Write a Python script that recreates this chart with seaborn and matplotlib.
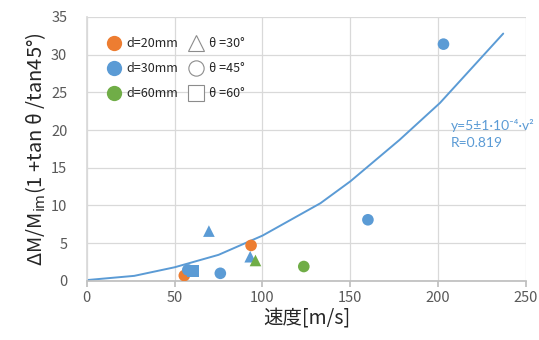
import pandas as pd
import seaborn as sns
import matplotlib.pyplot as plt
from matplotlib.lines import Line2D

# measured points
speed = [55.5, 93.5, 203, 160, 76, 57.5, 60.5, 69.5, 93, 96, 123.5]
dm = [0.7, 4.7, 31.4, 8.1, 1.0, 1.45, 1.3, 6.6, 3.2, 2.7, 1.9]
diam = ["d=20mm", "d=20mm", "d=30mm", "d=30mm", "d=30mm", "d=30mm", "d=30mm",
        "d=30mm", "d=30mm", "d=60mm", "d=60mm"]
theta = ["45", "45", "45", "45", "45", "45", "60", "30", "30", "30", "45"]

# fitted curve
fit_v = [0, 27, 50, 75, 100, 133, 150, 178, 201, 237]
fit_y = [0.1, 0.66, 1.8, 3.45, 6.0, 10.3, 13.2, 18.7, 23.6, 32.8]

df = pd.DataFrame({"speed": speed, "dm": dm, "d": diam, "theta": theta})
fit = pd.DataFrame({"v": fit_v, "y": fit_y})

colors = {"d=20mm": "#ED7D31", "d=30mm": "#5B9BD5", "d=60mm": "#70AD47"}
markers = {"30": "^", "45": "o", "60": "s"}

sns.set_theme(style="whitegrid")
plt.rcParams["font.family"] = ["Noto Sans CJK JP", "DejaVu Sans"]
plt.rcParams["mathtext.fontset"] = "dejavusans"

fig, ax = plt.subplots(figsize=(5.39, 3.4), dpi=100)
fig.subplots_adjust(left=0.161, right=0.976, bottom=0.174, top=0.95)

sns.lineplot(data=fit, x="v", y="y", color="#5B9BD5", lw=1.4, ax=ax, zorder=2)
sns.scatterplot(data=df, x="speed", y="dm", hue="d", style="theta", palette=colors,
                markers=markers, s=70, linewidth=0, legend=False, ax=ax, zorder=3)

ax.set_xlim(0, 250)
ax.set_ylim(0, 35)
ax.set_xticks(range(0, 251, 50))
ax.set_yticks(range(0, 36, 5))
ax.grid(True, color="#d9d9d9", lw=0.9)
for s in ["top", "right"]:
    ax.spines[s].set_visible(False)
ax.spines["left"].set_color("#d9d9d9")
ax.spines["bottom"].set_color("#bfbfbf")
ax.tick_params(axis="x", bottom=True, length=4, color="#bfbfbf", labelsize=10.5,
               labelcolor="#595959", pad=3)
ax.tick_params(axis="y", left=False, labelsize=10.5, labelcolor="#595959", pad=8)

ax.set_xlabel("速度[m/s]", fontsize=14, color="#262626", labelpad=3)
ax.set_ylabel(r"ΔM/M$_{\mathrm{im}}$(1 +tan θ /tan45°)", fontsize=14.5, color="#262626",
              labelpad=2)

ax.text(207, 20.6, "y=5±1·10⁻⁴·v²", color="#5B9BD5", fontsize=10,
        va="center", family=["Lato", "DejaVu Sans"])
ax.text(207, 18.3, "R=0.819", color="#5B9BD5", fontsize=10, va="center",
        family=["Lato", "DejaVu Sans"])

handles = [Line2D([], [], ls="", marker="o", ms=11, mec="none", mfc=colors[k], label=k)
           for k in colors]
handles += [Line2D([], [], ls="", marker=markers[k], ms=11, mfc="white", mec="#8c8c8c",
                   mew=0.8, label="θ =" + k + "°") for k in markers]
ax.legend(handles=handles, ncol=2, loc="upper left", bbox_to_anchor=(0.02, 0.965),
          frameon=False, fontsize=9, handletextpad=0.4, columnspacing=0.8,
          labelspacing=0.95, handlelength=1.2)

fig.savefig("out.png", dpi=100)
